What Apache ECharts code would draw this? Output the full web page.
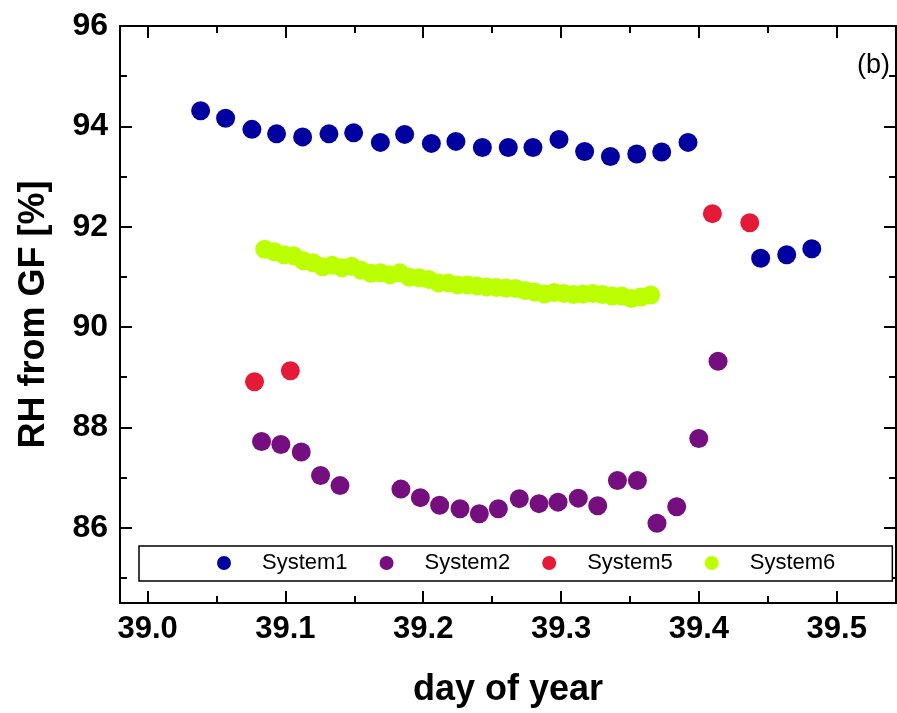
<!DOCTYPE html>
<html>
<head>
<meta charset="utf-8">
<script src="https://cdn.jsdelivr.net/npm/echarts@6/dist/echarts.min.js"></script>
<style>
  html, body { margin: 0; padding: 0; background: #fff; }
  #chart { width: 897px; height: 713px; }
</style>
</head>
<body>
<div id="chart"></div>
<script>
// System1 (blue)
var sys1X = [39.0385, 39.0566, 39.0757, 39.0936, 39.1125, 39.1316, 39.1495, 39.1689, 39.1865, 39.2059,
             39.2237, 39.2429, 39.2617, 39.2796, 39.2985, 39.3171, 39.3358, 39.3549, 39.3730, 39.3921,
             39.4448, 39.4637, 39.4819];
var sys1Y = [94.31, 94.16, 93.94, 93.85, 93.79, 93.85, 93.87, 93.68, 93.84, 93.66,
             93.70, 93.58, 93.58, 93.58, 93.74, 93.50, 93.40, 93.45, 93.49, 93.68,
             91.37, 91.44, 91.56];
// System2 (purple)
var sys2X = [39.0827, 39.0967, 39.1115, 39.1255, 39.1396, 39.1838, 39.1979, 39.2119, 39.2267, 39.2407,
             39.2545, 39.2697, 39.2840, 39.2978, 39.3125, 39.3266, 39.3409, 39.3554, 39.3696, 39.3839,
             39.3999, 39.4139];
var sys2Y = [87.72, 87.66, 87.51, 87.04, 86.84, 86.77, 86.60, 86.45, 86.38, 86.28,
             86.38, 86.58, 86.48, 86.51, 86.59, 86.44, 86.94, 86.94, 86.09, 86.42,
             87.78, 89.32];
// System5 (red)
var sys5X = [39.0776, 39.1036, 39.4098, 39.4369];
var sys5Y = [88.91, 89.13, 92.26, 92.08];
// System6 (green)
var sys6X = [39.085, 39.092, 39.099, 39.106, 39.113, 39.120, 39.127, 39.134, 39.141, 39.148,
             39.155, 39.162, 39.169, 39.176, 39.183, 39.190, 39.197, 39.204, 39.211, 39.218,
             39.225, 39.232, 39.239, 39.246, 39.253, 39.260, 39.267, 39.274, 39.281, 39.288,
             39.295, 39.302, 39.309, 39.316, 39.323, 39.330, 39.337, 39.344, 39.351, 39.358,
             39.365];
var sys6Y = [91.55, 91.50, 91.44, 91.42, 91.32, 91.28, 91.20, 91.23, 91.18, 91.21,
             91.13, 91.07, 91.08, 91.04, 91.08, 90.99, 90.98, 90.95, 90.88, 90.88,
             90.84, 90.84, 90.82, 90.80, 90.79, 90.78, 90.77, 90.73, 90.70, 90.66,
             90.69, 90.67, 90.65, 90.66, 90.67, 90.65, 90.62, 90.62, 90.57, 90.60,
             90.64];

var xMajor = [39.0, 39.1, 39.2, 39.3, 39.4, 39.5];
var xMinor = [39.05, 39.15, 39.25, 39.35, 39.45];
var yMajor = [86, 88, 90, 92, 94, 96];
var yMinor = [85, 87, 89, 91, 93, 95];

var seriesNames = ['System1', 'System2', 'System5', 'System6'];
var seriesColors = ['#0000a0', '#750f80', '#e41a36', '#bbff00'];

function pairs(xs, ys) {
  var out = [];
  for (var i = 0; i < xs.length; i++) out.push([xs[i], ys[i]]);
  return out;
}

var FONT = '"Liberation Sans", Arial, sans-serif';
var xMin = 38.98, xMax = 39.543, yMin = 84.5, yMax = 96;

function xAxisCfg(pos, ticks, len, labels) {
  return {
    type: 'value', position: pos, min: xMin, max: xMax,
    axisLine: { show: true, onZero: false, lineStyle: { color: '#000', width: 2 } },
    axisTick: { show: true, inside: true, length: len, customValues: ticks, lineStyle: { color: '#000', width: 2 } },
    axisLabel: labels ? {
      show: true, customValues: ticks, margin: 11,
      color: '#000', fontSize: 31, fontWeight: 'bold', fontFamily: FONT,
      formatter: function (v) { return v.toFixed(1); }
    } : { show: false },
    splitLine: { show: false }
  };
}
function yAxisCfg(pos, ticks, len, labels) {
  return {
    type: 'value', position: pos, min: yMin, max: yMax,
    axisLine: { show: true, onZero: false, lineStyle: { color: '#000', width: 2 } },
    axisTick: { show: true, inside: true, length: len, customValues: ticks, lineStyle: { color: '#000', width: 2 } },
    axisLabel: labels ? {
      show: true, customValues: ticks, margin: 12,
      color: '#000', fontSize: 32, fontWeight: 'bold', fontFamily: FONT
    } : { show: false },
    splitLine: { show: false }
  };
}

var xs = [xAxisCfg('bottom', xMajor, 12, true), xAxisCfg('bottom', xMinor, 7, false),
          xAxisCfg('top', xMajor, 12, false), xAxisCfg('top', xMinor, 7, false)];
xs[0].name = 'day of year';
xs[0].nameLocation = 'middle';
xs[0].nameGap = 69;
xs[0].nameTextStyle = { color: '#000', fontSize: 36, fontWeight: 'bold', fontFamily: FONT };

var ys = [yAxisCfg('left', yMajor, 12, true), yAxisCfg('left', yMinor, 7, false),
          yAxisCfg('right', yMajor, 12, false), yAxisCfg('right', yMinor, 7, false)];
ys[0].name = 'RH from GF [%]';
ys[0].nameLocation = 'middle';
ys[0].nameGap = 68;
ys[0].nameTextStyle = { color: '#000', fontSize: 36, fontWeight: 'bold', fontFamily: FONT };

var allX = [sys1X, sys2X, sys5X, sys6X];
var allY = [sys1Y, sys2Y, sys5Y, sys6Y];
var series = [];
for (var k = 0; k < seriesNames.length; k++) {
  series.push({
    name: seriesNames[k],
    type: 'scatter',
    xAxisIndex: 0, yAxisIndex: 0,
    symbol: 'circle',
    symbolSize: 19,
    itemStyle: { color: seriesColors[k], opacity: 1 },
    data: pairs(allX[k], allY[k])
  });
}

var option = {
  backgroundColor: '#fff',
  animation: false,
  color: seriesColors,
  grid: { left: 120, right: 1, top: 26, bottom: 109 },
  legend: {
    data: seriesNames,
    left: 139, top: 546,
    orient: 'horizontal',
    icon: 'circle',
    itemWidth: 14, itemHeight: 14, itemGap: 32,
    padding: [6, 57, 7, 78],
    borderColor: '#000', borderWidth: 1.5,
    backgroundColor: '#fff',
    formatter: '{t|{name}}',
    textStyle: {
      color: '#000', fontSize: 22, fontFamily: FONT,
      rich: { t: { fontSize: 22, fontFamily: FONT, color: '#000', padding: [0, 0, 0, 26] } }
    }
  },
  graphic: [{
    type: 'text', right: 7, top: 52,
    style: { text: '(b)', fill: '#000', fontSize: 27, fontFamily: FONT }
  }],
  xAxis: xs,
  yAxis: ys,
  series: series
};

var myChart = echarts.init(document.getElementById('chart'));
myChart.setOption(option);
</script>
</body>
</html>
